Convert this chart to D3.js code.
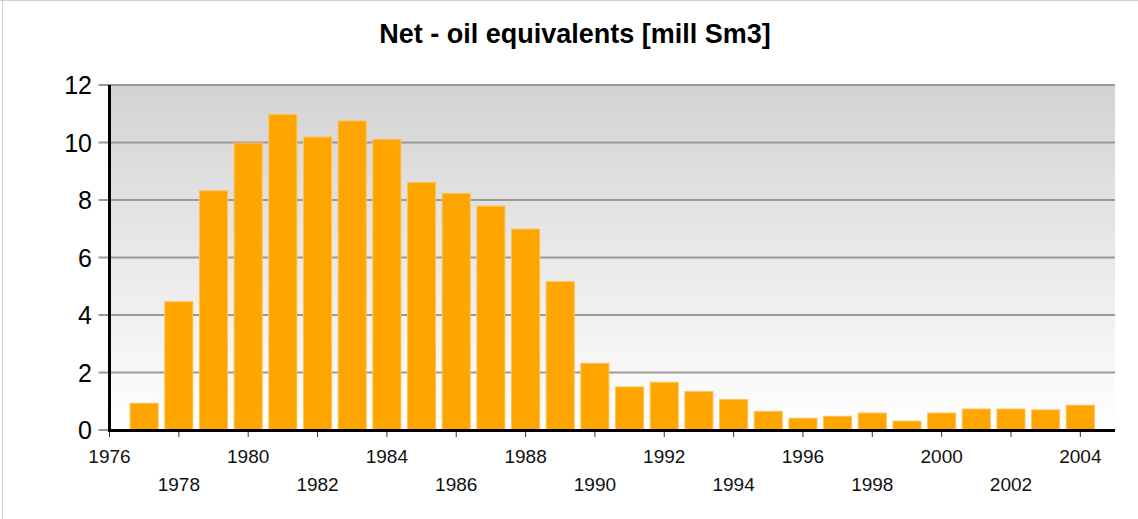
<!DOCTYPE html>
<html>
<head>
<meta charset="utf-8">
<script src="https://cdn.jsdelivr.net/npm/d3@7"></script>
<style>
  body { margin: 0; background: #fff; }
  svg { display: block; font-family: "Liberation Sans", Arial, sans-serif; }
</style>
</head>
<body>
<div id="chart"></div>
<script>
// data
const years = [1977, 1978, 1979, 1980, 1981, 1982, 1983, 1984, 1985, 1986,
  1987, 1988, 1989, 1990, 1991, 1992, 1993, 1994, 1995, 1996,
  1997, 1998, 1999, 2000, 2001, 2002, 2003, 2004];
const netOE = [0.93, 4.46, 8.32, 9.98, 10.98, 10.19, 10.75, 10.11, 8.61, 8.23,
  7.79, 6.99, 5.16, 2.32, 1.50, 1.66, 1.34, 1.06, 0.65, 0.41,
  0.48, 0.59, 0.31, 0.59, 0.73, 0.73, 0.70, 0.86];
const yTicks = [0, 2, 4, 6, 8, 10, 12];
const xTicks = d3.range(1976, 2005, 2);
const title = "Net - oil equivalents [mill Sm3]";

const width = 1138, height = 519;
const margin = { top: 85, right: 23, bottom: 89, left: 109.5 };

const svg = d3.select("#chart").append("svg")
  .attr("width", width)
  .attr("height", height);

// frame lines (top and left only visible in the source)
svg.append("line").attr("x1", 0).attr("x2", width).attr("y1", 0.5).attr("y2", 0.5)
  .style("stroke", "#d0d0d0").style("stroke-width", 1);
svg.append("line").attr("x1", 2.5).attr("x2", 2.5).attr("y1", 0).attr("y2", height)
  .style("stroke", "#d0d0d0").style("stroke-width", 1);

const x = d3.scaleLinear().domain([1976, 2005]).range([margin.left, width - margin.right]);
const y = d3.scaleLinear().domain([0, 12]).range([height - margin.bottom, margin.top]);

//background gradient
const grad = svg.append("defs").append("linearGradient")
  .attr("id", "bg").attr("x1", 0).attr("y1", 0).attr("x2", 0).attr("y2", 1);
grad.append("stop").attr("offset", "0%").attr("stop-color", "#d3d3d3");
grad.append("stop").attr("offset", "100%").attr("stop-color", "#ffffff");

svg.append("rect")
  .attr("x", x.range()[0]).attr("y", y(12))
  .attr("width", x.range()[1] - x.range()[0])
  .attr("height", y(0) - y(12))
  .style("fill", "url(#bg)");

//grid lines, which also act as the left ticks
svg.append("g").selectAll("line")
  .data(yTicks)
  .enter().append("line")
  .attr("x1", x.range()[0] - 11)
  .attr("x2", x.range()[1])
  .attr("y1", (d) => y(d))
  .attr("y2", (d) => y(d))
  .style("stroke", "#9a9a9a")
  .style("stroke-width", 2);

//y labels
svg.append("g").selectAll("text")
  .data(yTicks)
  .enter().append("text")
  .attr("x", 92)
  .attr("y", (d) => y(d))
  .attr("dy", "0.36em")
  .attr("text-anchor", "end")
  .style("font-size", "25px")
  .style("fill", "#000")
  .text((d) => d);

//bars
const barW = (x(1) - x(0)) * 0.81;
svg.append("g").selectAll("rect")
  .data(years)
  .enter().append("rect")
  .attr("x", (d) => x(d) - barW / 2)
  .attr("y", (d, i) => y(netOE[i]))
  .attr("width", barW)
  .attr("height", (d, i) => y(0) - y(netOE[i]))
  .style("fill", "#ffa500")
  .style("stroke", "#ffc25a")
  .style("stroke-width", 1);

//axis lines
svg.append("line")
  .attr("x1", x.range()[0]).attr("x2", x.range()[0])
  .attr("y1", y(12)).attr("y2", y(0) + 1.5)
  .style("stroke", "#000").style("stroke-width", 3);
svg.append("line")
  .attr("x1", x.range()[0] - 1.5).attr("x2", x.range()[1])
  .attr("y1", y(0) + 0.5).attr("y2", y(0) + 0.5)
  .style("stroke", "#000").style("stroke-width", 3);

//x ticks and staggered labels
const xt = svg.append("g").selectAll("g")
  .data(xTicks)
  .enter().append("g")
  .attr("transform", (d) => "translate(" + x(d) + ",0)");
xt.append("line")
  .attr("y1", y(0) + 2).attr("y2", y(0) + 7)
  .style("stroke", "#333").style("stroke-width", 1);
xt.append("text")
  .attr("y", (d, i) => (i % 2 === 0 ? 463 : 491))
  .attr("text-anchor", "middle")
  .style("font-size", "19px")
  .style("fill", "#111")
  .text((d) => d);

//title
svg.append("text")
  .attr("x", 575)
  .attr("y", 43)
  .attr("text-anchor", "middle")
  .style("font-size", "27px")
  .style("font-weight", "bold")
  .style("fill", "#000")
  .text(title);
</script>
</body>
</html>
